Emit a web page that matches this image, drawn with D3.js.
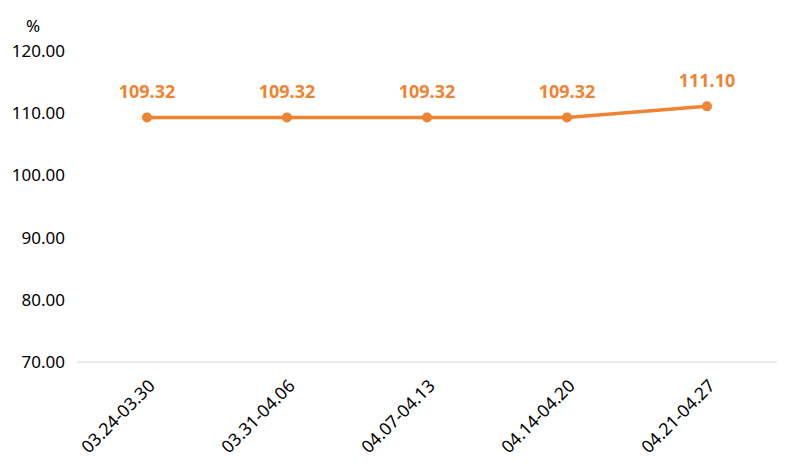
<!DOCTYPE html>
<html><head><meta charset="utf-8">
<script src="https://cdn.jsdelivr.net/npm/d3@7"></script>
<style>body{margin:0;background:#fff}text{font-family:"Noto Sans","Open Sans",sans-serif}</style>
</head><body><svg id="c" width="794" height="475"></svg>
<script>
const categories=["03.24-03.30","03.31-04.06","04.07-04.13","04.14-04.20","04.21-04.27"];
const values=[109.32,109.32,109.32,109.32,111.10];
const yTicks=[70,80,90,100,110,120];
const svg=d3.select("#c");
const color="#f08331";
const x=d3.scaleBand().domain(categories).range([77,777]);
const y=d3.scaleLinear().domain([70,120]).range([362,51]);
svg.append("line").attr("x1",77).attr("x2",777).attr("y1",y(70)).attr("y2",y(70)).attr("stroke","#d9d9d9").attr("stroke-width",1);
svg.selectAll(".yt").data(yTicks).enter().append("text").attr("x",65).attr("y",d=>y(d)).attr("dy","0.35em").attr("text-anchor","end").attr("font-size",17).attr("fill","#000").text(d=>d.toFixed(2));
svg.append("text").attr("x",33).attr("y",26).attr("dy","0.35em").attr("text-anchor","middle").attr("font-size",17).text("%");
svg.selectAll(".xt").data(categories).enter().append("text").attr("text-anchor","end").attr("font-size",17.5)
 .attr("transform",d=>`translate(${x(d)+x.bandwidth()/2+9},${y(70)+25}) rotate(-45)`).text(d=>d);
const cx=(d,i)=>x(categories[i])+x.bandwidth()/2;
const line=d3.line().x((d,i)=>cx(d,i)).y(d=>y(d));
svg.append("path").datum(values).attr("d",line).attr("fill","none").attr("stroke",color).attr("stroke-width",3.5);
svg.selectAll(".pt").data(values).enter().append("circle").attr("cx",cx).attr("cy",d=>y(d)).attr("r",5).attr("fill",color);
svg.selectAll(".lb").data(values).enter().append("text").attr("x",cx).attr("y",d=>y(d)-19).attr("text-anchor","middle").attr("font-size",18).attr("font-weight","bold").attr("fill",color).text(d=>d.toFixed(2));
</script></body></html>
